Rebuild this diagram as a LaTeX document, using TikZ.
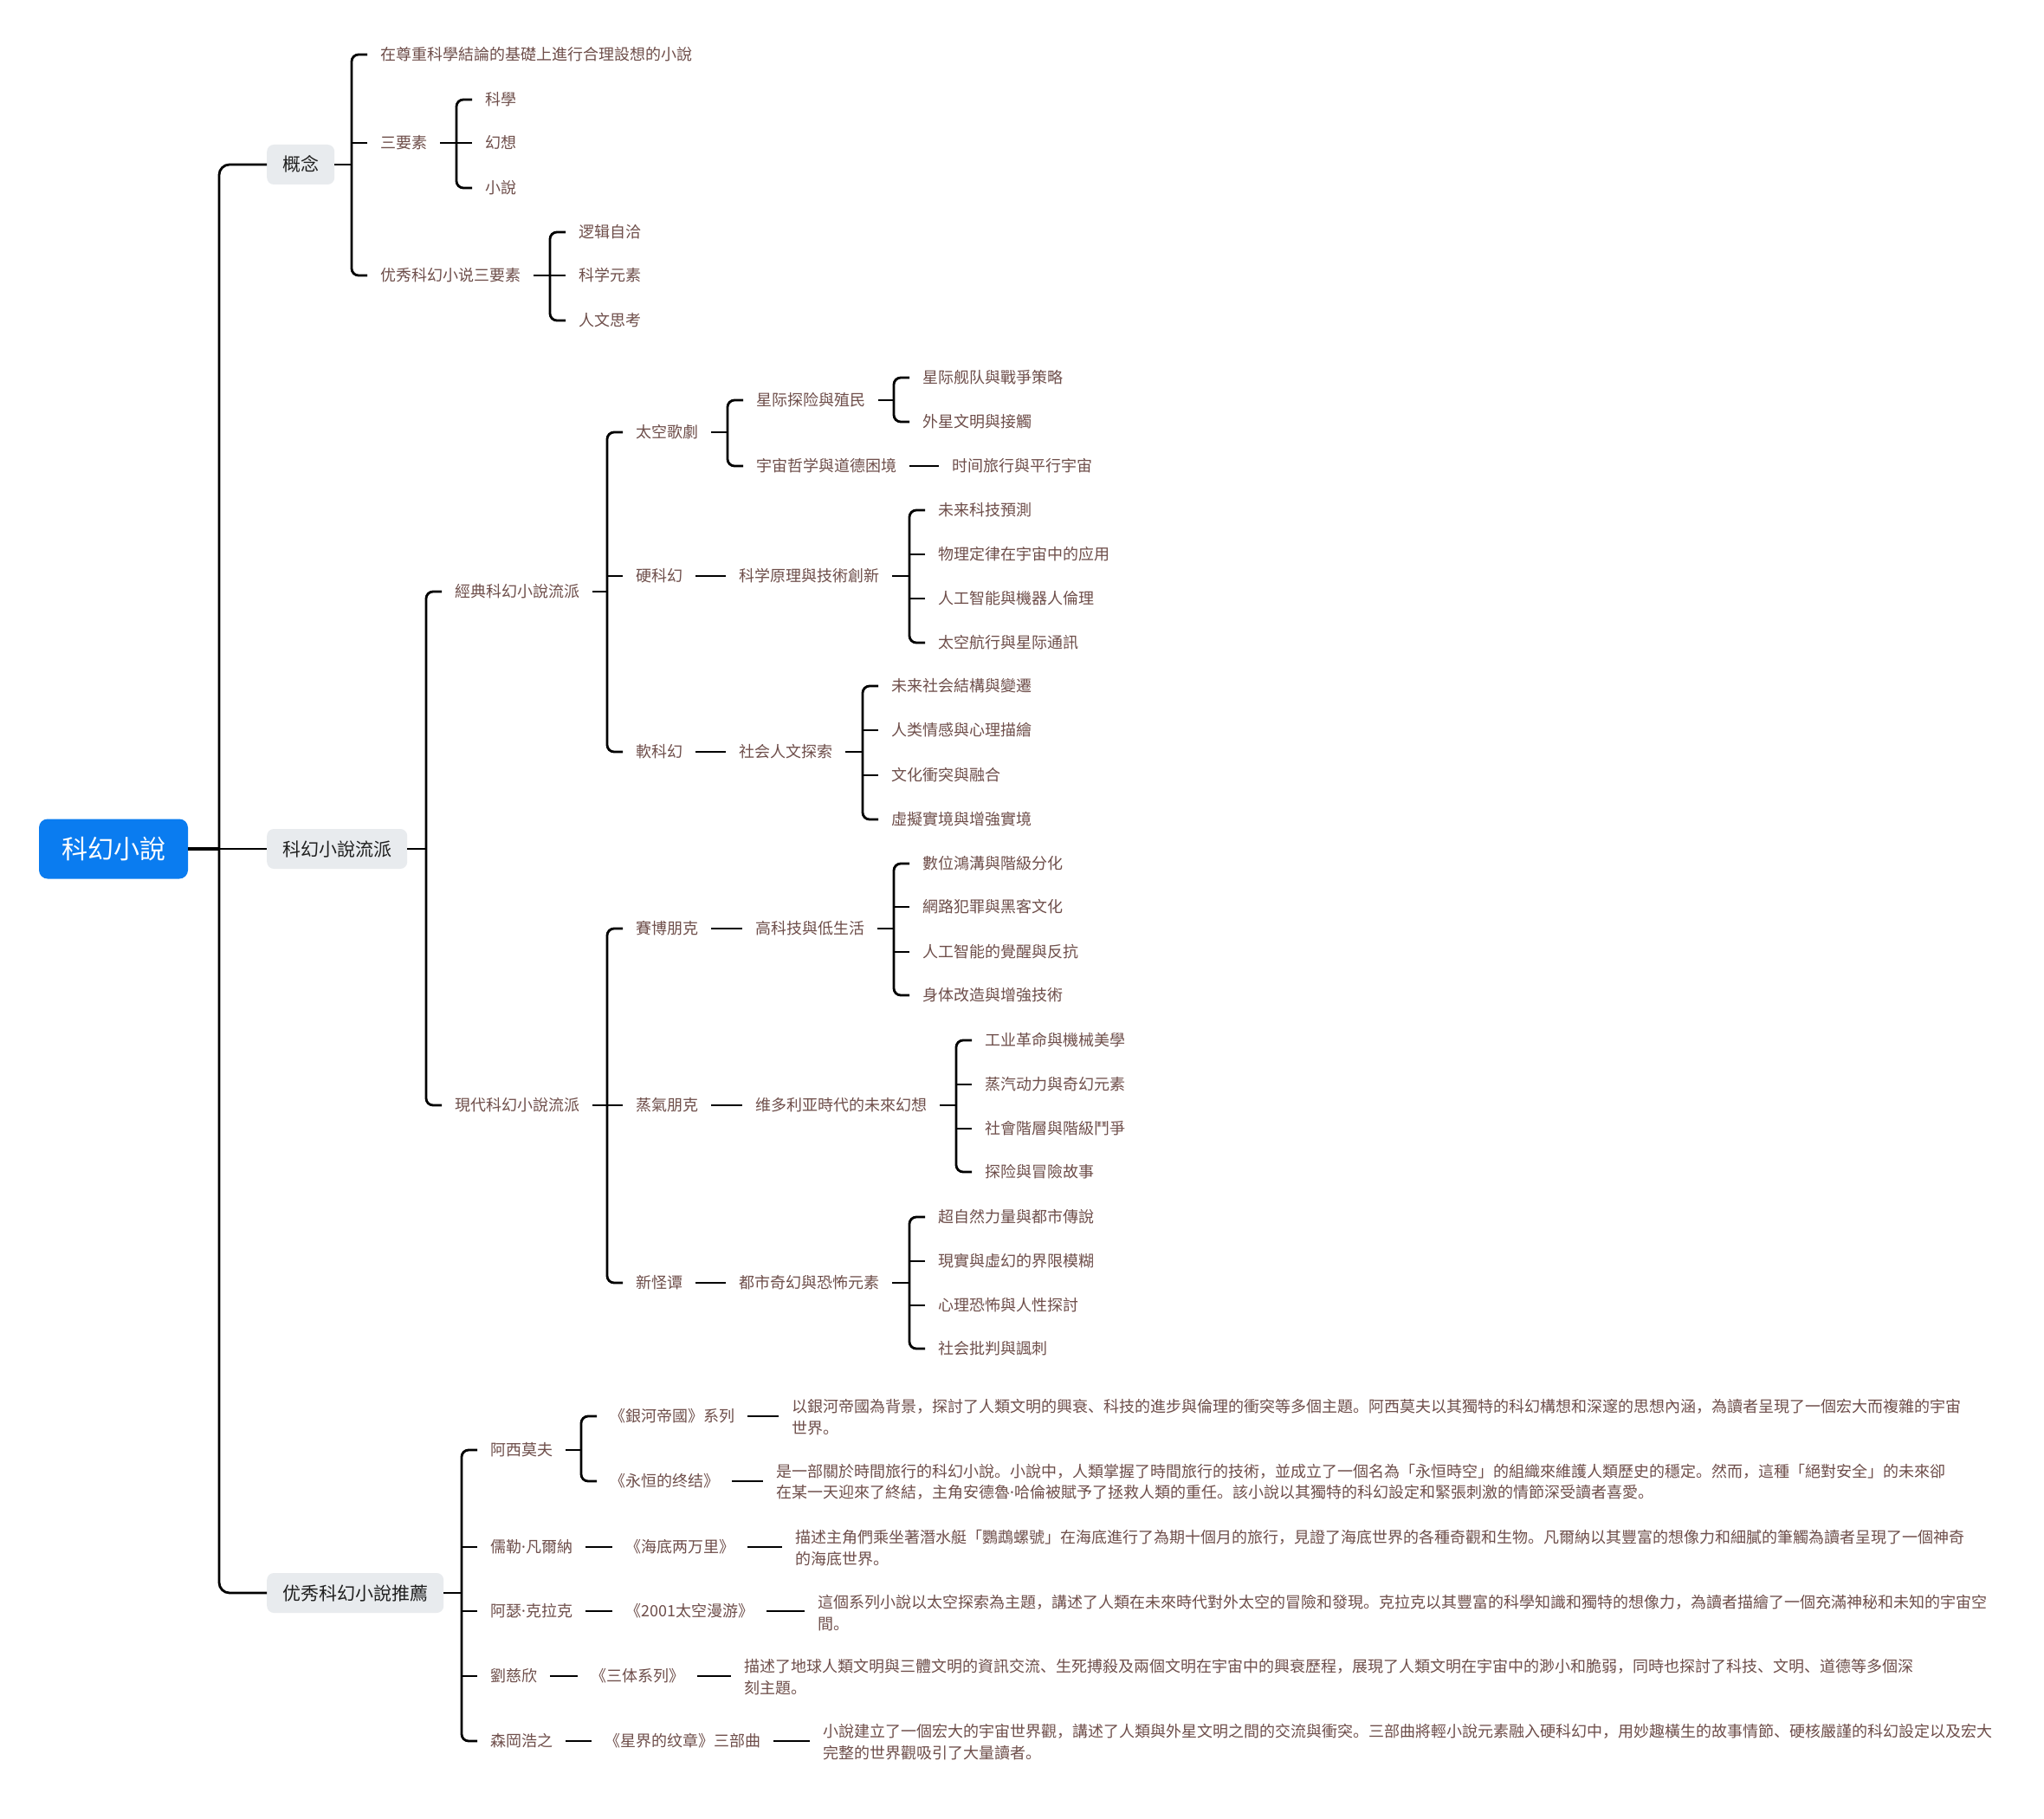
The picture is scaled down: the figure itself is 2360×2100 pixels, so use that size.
\documentclass[tikz,border=0pt]{standalone}
\usepackage{fontspec}
\setmainfont{Noto Sans CJK SC}
\newfontfamily\latinf{Noto Sans}
\newcommand{\mdot}{{\latinf ·}}
\definecolor{txt}{HTML}{6E4E4A}
\definecolor{gbox}{HTML}{E8EBEE}
\definecolor{rootblue}{HTML}{0A7CF0}
\tikzset{
 conn/.style={draw=black, line width=2.8pt},
 brk/.style={conn, rounded corners=8pt},
 lbl/.style={anchor=west, inner xsep=15pt, inner ysep=0pt, text=txt, font=\fontsize{18pt}{24.5pt}\selectfont, text height=15.8pt, text depth=2.2pt},
 descbox/.style={anchor=west, inner xsep=15pt, inner ysep=0pt, text=txt, font=\fontsize{18pt}{24.5pt}\selectfont, align=left},
 l2box/.style={anchor=west, fill=gbox, rounded corners=8pt, inner xsep=18pt, inner ysep=0pt, minimum height=46pt, text=black!88, font=\fontsize{21pt}{25pt}\selectfont, text height=18.5pt, text depth=2.5pt},
 rootbox/.style={fill=rootblue, rounded corners=10pt, minimum width=172pt, minimum height=69pt, text=white, font=\fontsize{30pt}{36pt}\selectfont, inner sep=0pt, text height=26.4pt, text depth=3.6pt},
}
\begin{document}
\begin{tikzpicture}[x=1pt,y=-1pt]
\fill[white] (0,0) rectangle (2360,2100);
\useasboundingbox (0,0) rectangle (2360,2100);

% root and level 2
\node[rootbox] (root) at (131,980) {科幻小說};
\node[l2box] (gn) at (308,190) {概念};
\node[l2box] (lp) at (308,980) {科幻小說流派};
\node[l2box] (tj) at (308,1839) {优秀科幻小說推薦};
\coordinate (T) at (253,980);
\draw[conn, line width=4pt] (root.east) -- (T);
\draw[conn, rounded corners=12pt] (gn.west) -| (T) |- (tj.west);
\draw[conn] (T) -- (lp.west);

% ---- 概念 ----
\node[lbl] (c1) at (424,63) {在尊重科學結論的基礎上進行合理設想的小說};
\node[lbl] (c2) at (424,165) {三要素};
\node[lbl] (c3) at (424,318) {优秀科幻小说三要素};
\coordinate (B1) at (406,190);
\draw[conn] (gn.east) -- (B1);
\draw[brk] (c1.west) -| (B1) |- (c3.west);
\draw[conn] (c2.west) -- (c2.west -| B1);

\node[lbl] (k1) at (545,115) {科學};
\node[lbl] (k2) at (545,165) {幻想};
\node[lbl] (k3) at (545,217) {小說};
\coordinate (B2) at (527,165);
\draw[conn] (c2.east) -- (B2);
\draw[brk] (k1.west) -| (B2) |- (k3.west);
\draw[conn] (k2.west) -- (B2);

\node[lbl] (e1) at (653,268) {逻辑自洽};
\node[lbl] (e2) at (653,318) {科学元素};
\node[lbl] (e3) at (653,370) {人文思考};
\coordinate (B3) at (635,318);
\draw[conn] (c3.east) -- (B3);
\draw[brk] (e1.west) -| (B3) |- (e3.west);
\draw[conn] (e2.west) -- (B3);

% ---- 流派 ----
\node[lbl] (j1) at (510,683) {經典科幻小說流派};
\node[lbl] (j2) at (510,1276) {現代科幻小說流派};
\coordinate (B4) at (492,980);
\draw[conn] (lp.east) -- (B4);
\draw[brk] (j1.west) -| (B4) |- (j2.west);

\node[lbl] (t1) at (719,499) {太空歌劇};
\node[lbl] (t2) at (719,665) {硬科幻};
\node[lbl] (t3) at (719,868) {軟科幻};
\coordinate (B5) at (701,683);
\draw[conn] (j1.east) -- (B5);
\draw[brk] (t1.west) -| (B5) |- (t3.west);
\draw[conn] (t2.west) -- (t2.west -| B5);

\node[lbl] (s1) at (858,462) {星际探险與殖民};
\node[lbl] (s2) at (858,538) {宇宙哲学與道德困境};
\coordinate (B6) at (840,499);
\draw[conn] (t1.east) -- (B6);
\draw[brk] (s1.west) -| (B6) |- (s2.west);

\node[lbl] (u1) at (1050,436) {星际舰队與戰爭策略};
\node[lbl] (u2) at (1050,487) {外星文明與接觸};
\coordinate (B7) at (1032,462);
\draw[conn] (s1.east) -- (B7);
\draw[brk] (u1.west) -| (B7) |- (u2.west);

\node[lbl] (s3) at (1084,538) {时间旅行與平行宇宙};
\draw[conn] (s2.east) -- (s3.west);

\node[lbl] (h1) at (838,665) {科学原理與技術創新};
\draw[conn] (t2.east) -- (h1.west);
\node[lbl] (hA) at (1068,589) {未来科技預測};
\node[lbl] (hB) at (1068,640) {物理定律在宇宙中的应用};
\node[lbl] (hC) at (1068,691) {人工智能與機器人倫理};
\node[lbl] (hD) at (1068,742) {太空航行與星际通訊};
\coordinate (B8) at (1050,665);
\draw[conn] (h1.east) -- (B8);
\draw[brk] (hA.west) -| (B8) |- (hD.west);
\foreach \n in {hB,hC} \draw[conn] (\n.west) -- (\n.west -| B8);

\node[lbl] (r1) at (838,868) {社会人文探索};
\draw[conn] (t3.east) -- (r1.west);
\node[lbl] (rA) at (1014,792) {未来社会結構與變遷};
\node[lbl] (rB) at (1014,843) {人类情感與心理描繪};
\node[lbl] (rC) at (1014,895) {文化衝突與融合};
\node[lbl] (rD) at (1014,946) {虛擬實境與增強實境};
\coordinate (B9) at (996,868);
\draw[conn] (r1.east) -- (B9);
\draw[brk] (rA.west) -| (B9) |- (rD.west);
\foreach \n in {rB,rC} \draw[conn] (\n.west) -- (\n.west -| B9);

\node[lbl] (m1) at (719,1072) {賽博朋克};
\node[lbl] (m2) at (719,1276) {蒸氣朋克};
\node[lbl] (m3) at (719,1481) {新怪谭};
\coordinate (B10) at (701,1276);
\draw[conn] (j2.east) -- (B10);
\draw[brk] (m1.west) -| (B10) |- (m3.west);
\draw[conn] (m2.west) -- (B10);

\node[lbl] (y1) at (857,1072) {高科技與低生活};
\draw[conn] (m1.east) -- (y1.west);
\node[lbl] (yA) at (1050,997) {數位鴻溝與階級分化};
\node[lbl] (yB) at (1050,1047) {網路犯罪與黑客文化};
\node[lbl] (yC) at (1050,1099) {人工智能的覺醒與反抗};
\node[lbl] (yD) at (1050,1149) {身体改造與增強技術};
\coordinate (B11) at (1032,1072);
\draw[conn] (y1.east) -- (B11);
\draw[brk] (yA.west) -| (B11) |- (yD.west);
\foreach \n in {yB,yC} \draw[conn] (\n.west) -- (\n.west -| B11);

\node[lbl] (y2) at (857,1276) {维多利亚時代的未來幻想};
\draw[conn] (m2.east) -- (y2.west);
\node[lbl] (zA) at (1122,1201) {工业革命與機械美學};
\node[lbl] (zB) at (1122,1252) {蒸汽动力與奇幻元素};
\node[lbl] (zC) at (1122,1303) {社會階層與階級鬥爭};
\node[lbl] (zD) at (1122,1353) {探险與冒險故事};
\coordinate (B12) at (1104,1276);
\draw[conn] (y2.east) -- (B12);
\draw[brk] (zA.west) -| (B12) |- (zD.west);
\foreach \n in {zB,zC} \draw[conn] (\n.west) -- (\n.west -| B12);

\node[lbl] (y3) at (838,1481) {都市奇幻與恐怖元素};
\draw[conn] (m3.east) -- (y3.west);
\node[lbl] (wA) at (1068,1405) {超自然力量與都市傳說};
\node[lbl] (wB) at (1068,1456) {現實與虛幻的界限模糊};
\node[lbl] (wC) at (1068,1507) {心理恐怖與人性探討};
\node[lbl] (wD) at (1068,1557) {社会批判與諷刺};
\coordinate (B13) at (1050,1481);
\draw[conn] (y3.east) -- (B13);
\draw[brk] (wA.west) -| (B13) |- (wD.west);
\foreach \n in {wB,wC} \draw[conn] (\n.west) -- (\n.west -| B13);

% ---- 推薦 ----
\node[lbl] (a1) at (551,1674) {阿西莫夫};
\node[lbl] (a2) at (551,1786) {儒勒\mdot 凡爾納};
\node[lbl] (a3) at (551,1860) {阿瑟\mdot 克拉克};
\node[lbl] (a4) at (551,1935) {劉慈欣};
\node[lbl] (a5) at (551,2010) {森岡浩之};
\coordinate (B14) at (533,1839);
\draw[conn] (tj.east) -- (B14);
\draw[brk] (a1.west) -| (B14) |- (a5.west);
\foreach \n in {a2,a3,a4} \draw[conn] (\n.west) -- (\n.west -| B14);

\node[lbl] (bk1) at (689,1635) {《銀河帝國》系列};
\node[lbl] (bk2) at (689,1710) {《永恒的终结》};
\coordinate (B15) at (671,1674);
\draw[conn] (a1.east) -- (B15);
\draw[brk] (bk1.west) -| (B15) |- (bk2.west);

\node[lbl] (bk3) at (707,1786) {《海底两万里》};
\node[lbl] (bk4) at (707,1860) {《2001太空漫游》};
\node[lbl] (bk5) at (667,1935) {《三体系列》};
\node[lbl] (bk6) at (683,2010) {《星界的纹章》三部曲};
\draw[conn] (a2.east) -- (bk3.west);
\draw[conn] (a3.east) -- (bk4.west);
\draw[conn] (a4.east) -- (bk5.west);
\draw[conn] (a5.east) -- (bk6.west);

\node[descbox] (d1) at (899,1636) {以銀河帝國為背景，探討了人類文明的興衰、科技的進步與倫理的衝突等多個主題。阿西莫夫以其獨特的科幻構想和深邃的思想內涵，為讀者呈現了一個宏大而複雜的宇宙\\世界。};
\node[descbox] (d2) at (881,1711) {是一部關於時間旅行的科幻小說。小說中，人類掌握了時間旅行的技術，並成立了一個名為「永恒時空」的組織來維護人類歷史的穩定。然而，這種「絕對安全」的未來卻\\在某一天迎來了終結，主角安德魯\mdot 哈倫被賦予了拯救人類的重任。該小說以其獨特的科幻設定和緊張刺激的情節深受讀者喜愛。};
\node[descbox] (d3) at (903,1787) {描述主角們乘坐著潛水艇「鸚鵡螺號」在海底進行了為期十個月的旅行，見證了海底世界的各種奇觀和生物。凡爾納以其豐富的想像力和細膩的筆觸為讀者呈現了一個神奇\\的海底世界。};
\node[descbox] (d4) at (929,1862) {這個系列小說以太空探索為主題，講述了人類在未來時代對外太空的冒險和發現。克拉克以其豐富的科學知識和獨特的想像力，為讀者描繪了一個充滿神秘和未知的宇宙空\\間。};
\node[descbox] (d5) at (844,1936) {描述了地球人類文明與三體文明的資訊交流、生死搏殺及兩個文明在宇宙中的興衰歷程，展現了人類文明在宇宙中的渺小和脆弱，同時也探討了科技、文明、道德等多個深\\刻主題。};
\node[descbox] (d6) at (935,2011) {小說建立了一個宏大的宇宙世界觀，講述了人類與外星文明之間的交流與衝突。三部曲將輕小說元素融入硬科幻中，用妙趣橫生的故事情節、硬核嚴謹的科幻設定以及宏大\\完整的世界觀吸引了大量讀者。};
\draw[conn] (bk1.east) -- (d1.west |- bk1.east);
\draw[conn] (bk2.east) -- (d2.west |- bk2.east);
\draw[conn] (bk3.east) -- (d3.west |- bk3.east);
\draw[conn] (bk4.east) -- (d4.west |- bk4.east);
\draw[conn] (bk5.east) -- (d5.west |- bk5.east);
\draw[conn] (bk6.east) -- (d6.west |- bk6.east);
\end{tikzpicture}
\end{document}
